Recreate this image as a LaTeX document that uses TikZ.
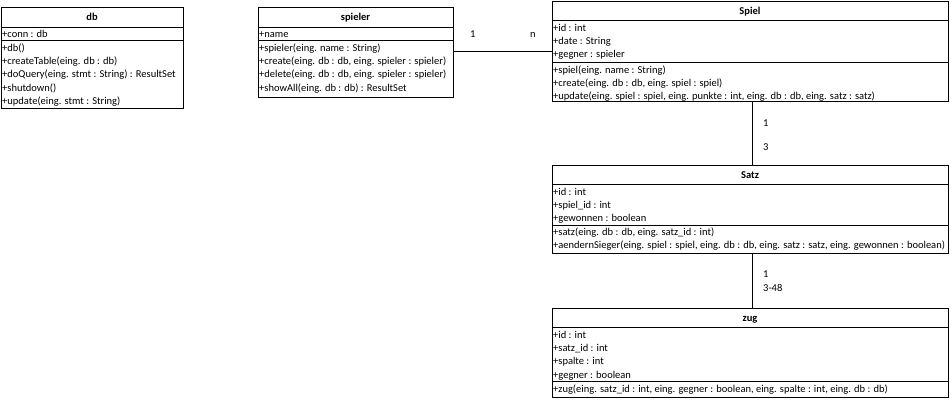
\documentclass[tikz,border=0pt]{standalone}
\usepackage{fontspec}
\setmainfont{Carlito}
\tikzset{
  umlbox/.style={draw, line width=0.8pt, inner sep=0pt, anchor=north west},
  txt/.style={anchor=base west, inner sep=0pt, font=\fontsize{10.5}{12}\selectfont},
  ttl/.style={anchor=base, inner sep=0pt, font=\fontsize{10.5}{12}\selectfont\bfseries},
  lbl/.style={anchor=base west, inner sep=0pt, font=\fontsize{10.5}{12}\selectfont},
  sep/.style={line width=0.8pt},
  assoc/.style={line width=0.8pt}
}
\newcommand\ulines[4]{%
  \foreach \t [count=\i from 0] in {#4} {\node[txt] (#1\i) at (#2, {#3+\i*13.3+3.6}) {\t};}}
\begin{document}
\begin{tikzpicture}[x=1pt,y=-1pt]
\useasboundingbox (0,0) rectangle (951,400);

% db
\node[umlbox, minimum width=182pt, minimum height=101pt] (db) at (1,7) {};
\draw[sep] ([yshift=-20pt]db.north west) -- ([yshift=-20pt]db.north east);
\draw[sep] ([yshift=-33pt]db.north west) -- ([yshift=-33pt]db.north east);
\node[ttl] (dbt) at (92,20.5) {db};
\ulines{dba}{2}{33.5}{+conn : db}
\ulines{dbm}{2}{47.5}{+db(), +createTable(eing. db : db), +doQuery(eing. stmt : String) : ResultSet, +shutdown(), +update(eing. stmt : String)}

% spieler
\node[umlbox, minimum width=195pt, minimum height=90pt] (spieler) at (258,7) {};
\draw[sep] ([yshift=-20pt]spieler.north west) -- ([yshift=-20pt]spieler.north east);
\draw[sep] ([yshift=-33pt]spieler.north west) -- ([yshift=-33pt]spieler.north east);
\node[ttl] (spt) at (355.5,20.5) {spieler};
\ulines{spa}{259}{33.5}{+name}
\ulines{spm}{259}{47.5}{+spieler(eing. name : String), {+create(eing. db : db, eing. spieler : spieler)}, {+delete(eing. db : db, eing. spieler : spieler)}, +showAll(eing. db : db) : ResultSet}

% Spiel
\node[umlbox, minimum width=396pt, minimum height=100pt] (Spiel) at (552,1) {};
\draw[sep] ([yshift=-19pt]Spiel.north west) -- ([yshift=-19pt]Spiel.north east);
\draw[sep] ([yshift=-61pt]Spiel.north west) -- ([yshift=-61pt]Spiel.north east);
\node[ttl] (sgt) at (750,14) {Spiel};
\ulines{sga}{553}{27.5}{+id : int, +date : String, +gegner : spieler}
\ulines{sgm}{553}{69.5}{+spiel(eing. name : String), {+create(eing. db : db, eing. spiel : spiel)}, {+update(eing. spiel : spiel, eing. punkte : int, eing. db : db, eing. satz : satz)}}

% Satz
\node[umlbox, minimum width=396pt, minimum height=88pt] (Satz) at (552,165) {};
\draw[sep] ([yshift=-19pt]Satz.north west) -- ([yshift=-19pt]Satz.north east);
\draw[sep] ([yshift=-60pt]Satz.north west) -- ([yshift=-60pt]Satz.north east);
\node[ttl] (sat) at (750,178) {Satz};
\ulines{saa}{553}{191.5}{+id : int, +spiel\_id : int, +gewonnen : boolean}
\ulines{sam}{553}{232}{{+satz(eing. db : db, eing. satz\_id : int)}, {+aendernSieger(eing. spiel : spiel, eing. db : db, eing. satz : satz, eing. gewonnen : boolean)}}

% zug
\node[umlbox, minimum width=396pt, minimum height=89pt] (zug) at (552,308) {};
\draw[sep] ([yshift=-19pt]zug.north west) -- ([yshift=-19pt]zug.north east);
\draw[sep] ([yshift=-73pt]zug.north west) -- ([yshift=-73pt]zug.north east);
\node[ttl] (zgt) at (750,321) {zug};
\ulines{zga}{553}{334.5}{+id : int, +satz\_id : int, +spalte : int, +gegner : boolean}
\ulines{zgm}{553}{389}{{+zug(eing. satz\_id : int, eing. gegner : boolean, eing. spalte : int, eing. db : db)}}

% associations
\draw[assoc] (spieler.east |- Spiel.west) -- (Spiel.west);
\node[lbl] (m1) at (470,37) {1};
\node[lbl] (m2) at (530,37) {n};
\draw[assoc] ([xshift=2pt]Spiel.south) -- ([xshift=2pt]Satz.north);
\node[lbl] (m3) at (763,126) {1};
\node[lbl] (m4) at (763,150) {3};
\draw[assoc] ([xshift=2pt]Satz.south) -- ([xshift=2pt]zug.north);
\node[lbl] (m5) at (763,277) {1};
\node[lbl] (m6) at (763,291) {3-48};
\end{tikzpicture}
\end{document}
